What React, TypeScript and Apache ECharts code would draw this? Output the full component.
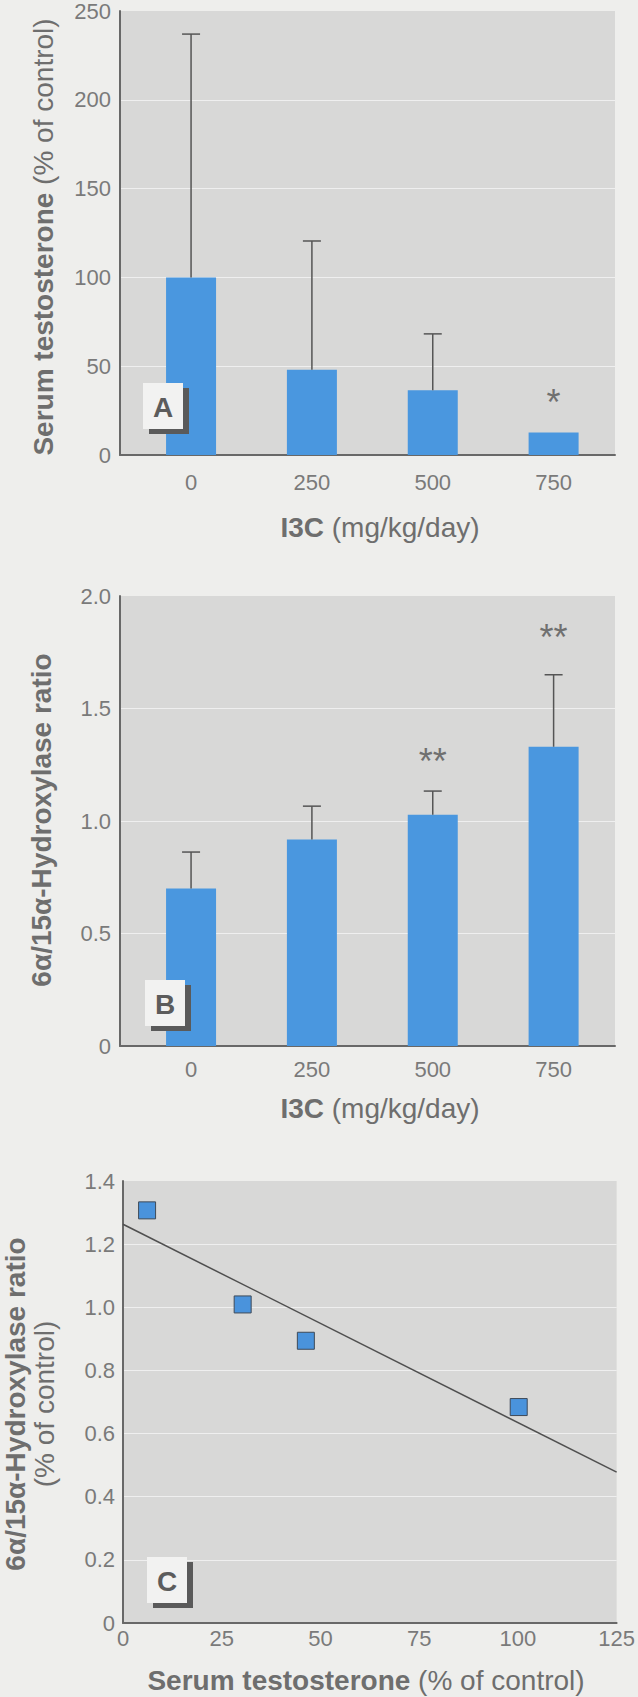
import React, { useEffect, useRef } from "react";
import * as echarts from "echarts";

// ---------- Panel A: serum testosterone vs I3C dose ----------
const doses = [0, 250, 500, 750];
const testosteroneMean = [100, 48, 36.4, 12.7];
const testosteroneUpper: (number | null)[] = [237, 120.5, 68.2, null];
const testosteroneSigText = ["", "", "", "*"];
const testosteroneSigY: (number | null)[] = [null, null, null, 34];

// ---------- Panel B: 6a/15a-hydroxylase ratio vs I3C dose ----------
const ratioMean = [0.7, 0.918, 1.028, 1.33];
const ratioUpper: (number | null)[] = [0.862, 1.066, 1.133, 1.65];
const ratioSigText = ["", "", "**", "**"];
const ratioSigY: (number | null)[] = [null, null, 1.3, 1.853];

// ---------- Panel C: ratio vs serum testosterone ----------
const corrTestosterone = [6.1, 30.3, 46.3, 100.2];
const corrRatio = [1.307, 1.009, 0.894, 0.684];
const fitX = [0, 125];
const fitY = [1.263, 0.478];

const SANS = '"Liberation Sans", Arial, sans-serif';
const AXIS_COLOR = "#686868";
const TICK_COLOR = "#7a7a7a";
const TITLE_COLOR = "#6e6e6e";
const BAR_COLOR = "#4a97df";
const PLOT_BG = "#d8d8d7";
const GRID_COLOR = "#efefef";
const PAGE_BG = "#eeeeec";
const ERR_COLOR = "#555555";

const fmt1 = (v: number) => (v === 0 ? "0" : v.toFixed(1));

function errorSeries(xIdx: number, means: number[], uppers: (number | null)[]) {
  const data = doses
    .map((d, i) => (uppers[i] == null ? null : [d, means[i], uppers[i] as number]))
    .filter((d) => d !== null);
  return {
    type: "custom",
    xAxisIndex: xIdx,
    yAxisIndex: xIdx,
    z: 5,
    silent: true,
    data,
    renderItem: (_params: any, api: any) => {
      const x = api.value(0);
      const lo = api.coord([x, api.value(1)]);
      const hi = api.coord([x, api.value(2)]);
      const st = { stroke: ERR_COLOR, lineWidth: 1.5 };
      return {
        type: "group",
        children: [
          { type: "line", shape: { x1: lo[0], y1: lo[1], x2: hi[0], y2: hi[1] }, style: st },
          { type: "line", shape: { x1: hi[0] - 9, y1: hi[1], x2: hi[0] + 9, y2: hi[1] }, style: st },
        ],
      };
    },
  };
}

function sigSeries(xIdx: number, texts: string[], ys: (number | null)[]) {
  const items = doses
    .map((d, i) => (ys[i] == null ? null : { value: [d, ys[i] as number], t: texts[i] }))
    .filter((d) => d !== null) as { value: number[]; t: string }[];
  return {
    type: "custom",
    xAxisIndex: xIdx,
    yAxisIndex: xIdx,
    z: 6,
    silent: true,
    data: items.map((it) => it.value),
    renderItem: (params: any, api: any) => {
      const p = api.coord([api.value(0), api.value(1)]);
      return {
        type: "text",
        x: p[0],
        y: p[1] + 8,
        style: {
          text: items[params.dataIndex].t,
          fontFamily: SANS,
          fontSize: 36,
          fill: "#707070",
          align: "center",
          verticalAlign: "middle",
          textAlign: "center",
          textVerticalAlign: "middle",
        },
      };
    },
  };
}

function panelLabel(letter: string, x: number, y: number) {
  return {
    type: "group",
    z: 100,
    children: [
      { type: "rect", z: 100, shape: { x: x + 6, y: y + 5, width: 40, height: 46 }, style: { fill: "#5a5a5a" } },
      { type: "rect", z: 101, shape: { x, y, width: 40, height: 46 }, style: { fill: "#f2f2f1" } },
      {
        type: "text",
        z: 102,
        x: x + 20,
        y: y + 24,
        style: {
          text: letter,
          fontFamily: SANS,
          fontWeight: "bold",
          fontSize: 28,
          fill: "#5c5c5c",
          align: "center",
          verticalAlign: "middle",
          textAlign: "center",
          textVerticalAlign: "middle",
        },
      },
    ],
  };
}

const richStyles = {
  b: { fontFamily: SANS, fontWeight: "bold", fontSize: 28, fill: TITLE_COLOR, color: TITLE_COLOR, lineHeight: 29 },
  r: { fontFamily: SANS, fontWeight: "normal", fontSize: 28, fill: TITLE_COLOR, color: TITLE_COLOR, lineHeight: 29 },
};

function titleText(text: string, x: number, y: number, rotate: boolean) {
  return {
    type: "text",
    z: 100,
    x,
    y,
    rotation: rotate ? Math.PI / 2 : 0,
    style: {
      text,
      rich: richStyles,
      fontFamily: SANS,
      fontSize: 28,
      fill: TITLE_COLOR,
      align: "center",
      verticalAlign: "middle",
      textAlign: "center",
      textVerticalAlign: "middle",
    },
  };
}

const tickLabel = { fontFamily: SANS, fontSize: 22, color: TICK_COLOR };
const axisLine = { show: true, onZero: false, lineStyle: { color: AXIS_COLOR, width: 2 } };

function doseXAxis(gridIndex: number, margin: number) {
  return {
    gridIndex,
    type: "value",
    min: -147,
    max: 877,
    axisLine,
    axisTick: { show: false },
    splitLine: { show: false },
    axisLabel: { ...tickLabel, margin, customValues: doses, formatter: (v: number) => String(v) },
  };
}

export default function App() {
  const ref = useRef<HTMLDivElement>(null);
  useEffect(() => {
    if (!ref.current) return;
    const chart = echarts.init(ref.current, undefined, { renderer: "svg" });
    const gridBase = { show: true, backgroundColor: PLOT_BG, borderWidth: 0 };
    chart.setOption({
      animation: false,
      backgroundColor: PAGE_BG,
      grid: [
        { ...gridBase, left: 120, top: 10, width: 495, height: 445 },
        { ...gridBase, left: 120, top: 596, width: 495, height: 450 },
        { ...gridBase, left: 123, top: 1181, width: 497, height: 442 },
      ],
      xAxis: [
        doseXAxis(0, 16),
        doseXAxis(1, 12),
        {
          gridIndex: 2,
          type: "value",
          min: 0,
          max: 125,
          interval: 25,
          axisLine,
          axisTick: { show: false },
          splitLine: { show: false },
          axisLabel: { ...tickLabel, margin: 4 },
        },
      ],
      yAxis: [
        {
          gridIndex: 0,
          type: "value",
          min: 0,
          max: 250,
          interval: 50,
          axisLine,
          axisTick: { show: false },
          splitLine: {
            show: true,
            lineStyle: { color: ["transparent", GRID_COLOR, GRID_COLOR, GRID_COLOR, GRID_COLOR, "transparent"], width: 1 },
          },
          axisLabel: { ...tickLabel, margin: 9 },
        },
        {
          gridIndex: 1,
          type: "value",
          min: 0,
          max: 2,
          interval: 0.5,
          axisLine,
          axisTick: { show: false },
          splitLine: {
            show: true,
            lineStyle: { color: ["transparent", GRID_COLOR, GRID_COLOR, GRID_COLOR, "transparent"], width: 1 },
          },
          axisLabel: { ...tickLabel, margin: 9, formatter: fmt1 },
        },
        {
          gridIndex: 2,
          type: "value",
          min: 0,
          max: 1.4,
          interval: 0.2,
          axisLine,
          axisTick: { show: false },
          splitLine: {
            show: true,
            lineStyle: {
              color: ["transparent", GRID_COLOR, GRID_COLOR, GRID_COLOR, GRID_COLOR, GRID_COLOR, GRID_COLOR, "transparent"],
              width: 1,
            },
          },
          axisLabel: { ...tickLabel, margin: 8, formatter: fmt1 },
        },
      ],
      series: [
        {
          type: "bar",
          xAxisIndex: 0,
          yAxisIndex: 0,
          barWidth: 50,
          itemStyle: { color: BAR_COLOR },
          data: doses.map((d, i) => [d, testosteroneMean[i]]),
        },
        errorSeries(0, testosteroneMean, testosteroneUpper),
        sigSeries(0, testosteroneSigText, testosteroneSigY),
        {
          type: "bar",
          xAxisIndex: 1,
          yAxisIndex: 1,
          barWidth: 50,
          itemStyle: { color: BAR_COLOR },
          data: doses.map((d, i) => [d, ratioMean[i]]),
        },
        errorSeries(1, ratioMean, ratioUpper),
        sigSeries(1, ratioSigText, ratioSigY),
        {
          type: "line",
          xAxisIndex: 2,
          yAxisIndex: 2,
          showSymbol: false,
          lineStyle: { color: "#4f4f4f", width: 1.5 },
          data: fitX.map((x, i) => [x, fitY[i]]),
          z: 3,
        },
        {
          type: "scatter",
          xAxisIndex: 2,
          yAxisIndex: 2,
          symbol: "rect",
          symbolSize: 17,
          itemStyle: { color: "#4a93dc", borderColor: "#3e4a58", borderWidth: 1, opacity: 1 },
          data: corrTestosterone.map((x, i) => [x, corrRatio[i]]),
          z: 4,
        },
      ],
      graphic: [
        panelLabel("A", 143, 383),
        panelLabel("B", 145, 980),
        panelLabel("C", 147, 1557),
        titleText("{b|Serum testosterone} {r|(% of control)}", 43, 237, true),
        titleText("{b|I3C} {r|(mg/kg/day)}", 380, 527, false),
        titleText("{b|6α/15α-Hydroxylase ratio}", 41, 820, true),
        titleText("{b|I3C} {r|(mg/kg/day)}", 380, 1108, false),
        titleText("{b|6α/15α-Hydroxylase ratio}\n{r|(% of control)}", 30, 1404, true),
        titleText("{b|Serum testosterone} {r|(% of control)}", 366, 1680, false),
      ],
    });
    return () => chart.dispose();
  }, []);
  return (
    <div
      ref={ref}
      style={{ position: "absolute", left: 0, top: 0, width: 638, height: 1697 }}
    />
  );
}
